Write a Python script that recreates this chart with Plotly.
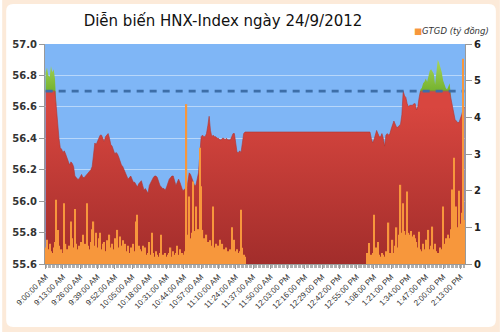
import plotly.graph_objects as go

# ---------------- data ----------------
title_text = "Diễn biến HNX-Index ngày 24/9/2012"
legend_text = "GTGD (tỷ đồng)"
ref_level = 56.7

tick_labels = ["9:00:00 AM", "9:13:00 AM", "9:26:00 AM", "9:39:00 AM", "9:52:00 AM",
               "10:05:00 AM", "10:18:00 AM", "10:31:00 AM", "10:44:00 AM", "10:57:00 AM",
               "11:10:00 AM", "11:24:00 AM", "11:37:00 AM", "11:50:00 AM", "12:03:00 PM",
               "12:16:00 PM", "12:29:00 PM", "12:42:00 PM", "12:55:00 PM", "1:08:00 PM",
               "1:21:00 PM", "1:34:00 PM", "1:47:00 PM", "2:00:00 PM", "2:13:00 PM"]

index_values = (
    [56.82, 56.85, 56.80, 56.79, 56.86, 56.82, 56.84, 56.78, 56.60, 56.48,
     56.40, 56.34, 56.33, 56.31, 56.32, 56.30, 56.28, 56.26, 56.23, 56.25,
     56.24, 56.22, 56.16, 56.15, 56.14, 56.14, 56.16, 56.17, 56.15, 56.15,
     56.16, 56.17, 56.18, 56.19, 56.20, 56.22, 56.30, 56.37, 56.36, 56.38,
     56.40, 56.42, 56.42, 56.40, 56.38, 56.41, 56.42, 56.43, 56.40, 56.36,
     56.35, 56.32, 56.30, 56.31, 56.30, 56.28, 56.25, 56.23, 56.22, 56.20,
     56.18, 56.16, 56.14, 56.15, 56.16, 56.14, 56.12, 56.12, 56.10, 56.09,
     56.11, 56.12, 56.13, 56.10, 56.07, 56.08, 56.06, 56.05, 56.10, 56.12,
     56.14, 56.15, 56.16, 56.16, 56.15, 56.12, 56.10, 56.09, 56.08, 56.08,
     56.07, 56.09, 56.12, 56.14, 56.15, 56.16, 56.16, 56.13, 56.10, 56.12,
     56.14, 56.12, 56.09, 56.07, 56.07, 56.08, 56.07, 56.12, 56.18, 56.17,
     56.15, 56.13, 56.10, 56.10, 56.14, 56.18, 56.30, 56.41, 56.42, 56.41,
     56.41, 56.43, 56.48, 56.54, 56.45, 56.41, 56.42, 56.41, 56.41, 56.40,
     56.40, 56.39, 56.39, 56.40, 56.40, 56.39, 56.40, 56.39, 56.39, 56.39,
     56.41, 56.43, 56.43, 56.36, 56.31, 56.31, 56.32, 56.31, 56.38, 56.43]
    + [56.44] * 95
    + [56.40, 56.37, 56.39, 56.43, 56.45,
       56.43, 56.41, 56.41, 56.43, 56.40, 56.35, 56.42, 56.43, 56.42, 56.43,
       56.46, 56.48, 56.51, 56.49, 56.47, 56.47, 56.48, 56.49, 56.55, 56.70,
       56.67, 56.66, 56.62, 56.60, 56.61, 56.61, 56.61, 56.62, 56.62, 56.58,
       56.60, 56.66, 56.71, 56.72, 56.75, 56.76, 56.78, 56.76, 56.80, 56.83,
       56.84, 56.82, 56.81, 56.74, 56.82, 56.90, 56.88, 56.85, 56.82, 56.77,
       56.74, 56.72, 56.71, 56.73, 56.75, 56.65, 56.60, 56.55, 56.52, 56.51,
       56.50, 56.50, 56.52, 56.55, 56.58, 56.60]
)

volume_values = (
    [0.45, 0.66, 0.40, 0.55, 0.35, 0.30, 0.45, 0.60, 1.75, 0.93,
     0.50, 0.35, 0.40, 0.30, 1.66, 0.55, 0.40, 0.28, 0.50, 1.16,
     0.70, 0.45, 1.50, 0.55, 0.40, 0.50, 0.35, 0.60, 0.80, 0.45,
     0.55, 1.66, 0.50, 0.40, 0.60, 0.95, 1.16, 0.50, 0.85, 0.45,
     0.70, 0.85, 0.40, 0.55, 0.60, 0.35, 0.65, 0.50, 0.80, 0.45,
     0.55, 0.40, 0.70, 0.60, 0.93, 0.45, 0.75, 0.50, 0.65, 0.40,
     0.55, 0.35, 0.50, 0.30, 0.45, 0.40, 0.55, 0.35, 1.16, 1.34,
     0.50, 0.40, 0.35, 0.50, 0.30, 0.45, 0.25, 0.30, 0.60, 0.25,
     0.85, 0.30, 0.20, 0.35, 0.25, 0.20, 0.30, 0.80, 0.25, 0.20,
     0.30, 0.20, 0.25, 0.30, 0.45, 0.20, 0.35, 0.25, 0.30, 0.50,
     0.25, 0.40, 0.20, 0.30, 0.25, 0.35, 4.36, 0.80, 1.84, 0.70,
     0.85, 2.25, 0.90, 1.57, 0.75, 0.95, 3.17, 2.12, 0.93, 0.70,
     0.66, 0.80, 0.60, 0.55, 0.65, 0.50, 1.57, 0.45, 0.55, 0.40,
     0.50, 0.66, 0.35, 0.55, 0.40, 0.30, 0.45, 0.35, 0.30, 0.40,
     1.00, 0.45, 0.66, 0.35, 0.40, 0.30, 0.35, 1.48, 0.44, 0.25,
     0.20]
    + [0.0] * 91
    + [0.30, 0.57, 0.20, 0.25, 0.30, 1.34, 0.25, 0.45,
       0.60, 0.25, 0.20, 0.30, 0.25, 0.20, 0.35, 0.25, 1.13, 0.30,
       0.25, 0.66, 0.30, 0.50, 1.00, 0.45, 0.80, 2.16, 0.85, 1.66,
       0.90, 0.80, 1.98, 0.85, 0.80, 0.90, 0.75, 0.80, 0.70, 0.60,
       0.45, 0.88, 0.40, 0.35, 0.55, 0.40, 0.66, 0.35, 0.93, 0.40,
       0.50, 1.02, 0.40, 0.55, 0.35, 0.30, 0.30, 0.45, 0.40, 1.57,
       0.55, 0.70, 0.65, 0.80, 0.70, 0.95, 2.03, 2.90, 1.20, 1.57,
       1.00, 2.00, 1.10, 1.40, 5.60, 1.20]
)

N = len(index_values)
xs = list(range(N))
tick_step = 13
tick_positions = [k * tick_step for k in range(len(tick_labels))]

red_part = [min(v, ref_level) for v in index_values]

# ---------------- layout geometry ----------------
W, H = 500, 332
ML, MR, MT, MB = 43, 35, 44, 68
PW, PH = W - ML - MR, H - MT - MB


def P(px, py):
    return f"{(px - ML) / PW:.5f},{(H - MB - py) / PH:.5f}"


r = 7
bx0, by0, bx1, by1 = 4, 4, 496, 327
frame_path = (
    f"M {P(0, 0)} L {P(W, 0)} L {P(W, H)} L {P(0, H)} Z "
    f"M {P(bx0 + r, by0)} Q {P(bx0, by0)} {P(bx0, by0 + r)} "
    f"L {P(bx0, by1 - r)} Q {P(bx0, by1)} {P(bx0 + r, by1)} "
    f"L {P(bx1 - r, by1)} Q {P(bx1, by1)} {P(bx1, by1 - r)} "
    f"L {P(bx1, by0 + r)} Q {P(bx1, by0)} {P(bx1 - r, by0)} Z"
)

fig = go.Figure()

fig.add_trace(go.Scatter(
    x=xs, y=red_part, mode="lines", line=dict(width=0.6, color="#B3332E"),
    fill="tozeroy",
    fillgradient=dict(type="vertical", start=55.6, stop=56.6,
                      colorscale=[[0, "#A22D2B"], [1, "#D8463F"]]),
    hoverinfo="skip", showlegend=False, yaxis="y"))

fig.add_trace(go.Scatter(
    x=xs, y=index_values, mode="lines", line=dict(width=0),
    fill="tonexty",
    fillgradient=dict(type="vertical", start=56.7, stop=56.9,
                      colorscale=[[0, "#74B22E"], [1, "#A9D65A"]]),
    hoverinfo="skip", showlegend=False, yaxis="y"))

fig.add_trace(go.Scatter(
    x=[xs[0], xs[-1]], y=[ref_level, ref_level], mode="lines",
    line=dict(color="#3D6EA8", width=2.6, dash="7px,6px"),
    hoverinfo="skip", showlegend=False, yaxis="y"))

fig.add_trace(go.Bar(
    x=xs, y=volume_values, name=legend_text, marker=dict(color="#F7973C", line=dict(width=0)),
    yaxis="y2", showlegend=False))

fig.update_layout(
    width=W, height=H,
    margin=dict(l=ML, r=MR, t=MT, b=MB, pad=0),
    paper_bgcolor="white",
    plot_bgcolor="#7FB6F6",
    bargap=0.05,
    showlegend=False,
    title=dict(text=title_text, x=223 / W, xanchor="center", xref="container",
               y=1 - 21 / H, yanchor="middle", yref="container",
               font=dict(family="DejaVu Sans", size=15, color="#111")),
    xaxis=dict(range=[-0.5, N - 0.5], tickvals=tick_positions, ticktext=tick_labels,
               tickangle=-45, tickfont=dict(family="Liberation Sans", size=8, color="#333"),
               ticks="outside", ticklen=4, tickcolor="#999",
               minor=dict(dtick=1, tick0=0, ticks="outside", ticklen=3, tickcolor="#b0b0b0", showgrid=False),
               showline=True, linecolor="#999", linewidth=1,
               showgrid=False, zeroline=False),
    yaxis=dict(range=[55.6, 57.0], dtick=0.2, tick0=55.6, tickformat=".1f",
               tickfont=dict(family="DejaVu Sans", size=10, color="#333", weight="bold"),
               ticks="outside", ticklen=5, tickcolor="#999",
               showline=True, linecolor="#999", linewidth=1,
               gridcolor="rgba(255,255,255,0.45)", gridwidth=1, zeroline=False),
    yaxis2=dict(range=[0, 6], dtick=1, overlaying="y", side="right",
                tickfont=dict(family="DejaVu Sans", size=10, color="#222", weight="bold"),
                ticks="outside", ticklen=6, tickcolor="#999",
                showline=True, linecolor="#999", linewidth=1,
                showgrid=False, zeroline=False),
    shapes=[dict(type="path", xref="paper", yref="paper", path=frame_path,
                 fillcolor="#FCEAD9", line=dict(width=0), layer="above")],
    annotations=[dict(xref="paper", yref="paper",
                      x=(412 - ML) / PW, y=(H - MB - 31) / PH,
                      xanchor="left", yanchor="middle", showarrow=False,
                      text=f'<span style="color:#F7973C">■</span><i>{legend_text}</i>',
                      font=dict(family="DejaVu Sans", size=8.5, color="#333"))],
)

fig.write_html("out.html")
